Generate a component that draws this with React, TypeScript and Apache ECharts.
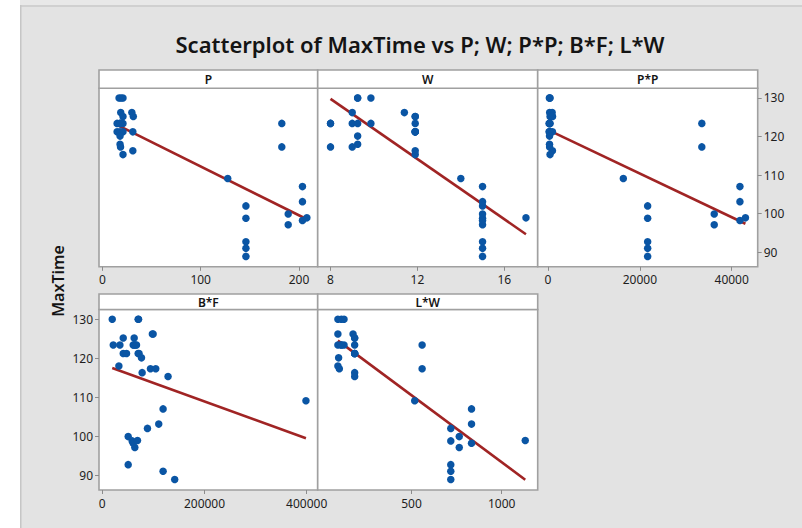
import React, { useEffect, useRef } from "react";
import * as echarts from "echarts";

// ---- Data (one entry per observation) ----
const maxTime = [
  130, 130, 130, 126.2, 126.2, 125.2, 125.2, 123.4, 123.4, 123.4, 123.4, 123.4,
  121.2, 121.2, 121.2, 121.2, 120.1, 118, 117.3, 116.3, 115.3,
  109.1, 102.0, 98.8, 92.7, 91.0, 88.9, 123.4, 117.3, 99.9, 97.1, 107.0, 103.1, 98.2, 98.9,
];
const pVals = [
  17, 19, 21, 18.7, 30, 21, 31.5, 15, 18, 21, 19, 18,
  15, 18, 21, 31, 18, 18, 18.5, 31, 21,
  127.5, 146, 146, 146, 146, 146, 182.5, 182.5, 189, 189, 203.5, 203.5, 203.5, 208,
];
const wVals = [
  9.25, 9.25, 9.86, 9, 11.4, 11.9, 11.9, 8, 9, 9.25, 9.86, 11.9,
  11.9, 11.9, 11.9, 11.9, 9.25, 9.25, 9, 11.9, 11.9,
  14, 15, 15, 15, 15, 15, 8, 8, 15, 15, 15, 15, 15, 17,
];
const ppVals = [
  289, 361, 441, 350, 900, 441, 992, 225, 324, 441, 361, 324,
  225, 324, 441, 961, 324, 324, 342, 961, 441,
  16400, 21700, 21700, 21700, 21700, 21700, 33500, 33500, 36200, 36200, 41800, 41800, 41800, 43000,
];
const bfVals = [
  19500, 70200, 71000, 99500, 98000, 41000, 62400, 21500, 34500, 60500, 65000, 62000,
  41000, 47500, 70200, 72000, 76700, 32500, 94250, 78000, 128700,
  398500, 88400, 58500, 50700, 119000, 141700, 67000, 104650, 50700, 63700, 119000, 110500, 60500, 68900,
];
const lwVals = [
  111, 126, 92, 92, 176, 185, 185, 92, 111, 126, 111, 185,
  185, 185, 185, 185, 96, 92, 100, 185, 185,
  518, 718, 718, 718, 718, 718, 559, 559, 765, 765, 833, 833, 833, 1131,
];

const panelNames = ["P", "W", "P*P", "B*F", "L*W"];
const yTicks = [90, 100, 110, 120, 130];
const xTicksP = [0, 100, 200];
const xTicksW = [8, 12, 16];
const xTicksPP = [0, 20000, 40000];
const xTicksBF = [0, 200000, 400000];
const xTicksLW = [500, 1000];

const FONT = '"Noto Sans", "Open Sans", sans-serif';

function fitLine(xs: number[], ys: number[]) {
  const n = xs.length;
  const mx = xs.reduce((a, b) => a + b, 0) / n;
  const my = ys.reduce((a, b) => a + b, 0) / n;
  let sxy = 0, sxx = 0;
  for (let i = 0; i < n; i++) {
    sxy += (xs[i] - mx) * (ys[i] - my);
    sxx += (xs[i] - mx) * (xs[i] - mx);
  }
  const b = sxy / sxx;
  const a = my - b * mx;
  const lo = Math.min(...xs);
  const hi = Math.max(...xs);
  return [[lo, a + b * lo], [hi, a + b * hi]];
}

export default function App() {
  const ref = useRef<HTMLDivElement>(null);
  useEffect(() => {
    if (!ref.current) return;
    const chart = echarts.init(ref.current, null, { renderer: "svg" });

    const xSets = [pVals, wVals, ppVals, bfVals, lwVals];
    const xTickSets = [xTicksP, xTicksW, xTicksPP, xTicksBF, xTicksLW];
    const xRanges = [
      [-3.4, 219],
      [7.41, 17.54],
      [-2250, 45670],
      [-6400, 421500],
      [-20, 1200],
    ];
    const cols = [[99, 218.7], [317.7, 220], [537.7, 220]];
    const rows = [
      { head: 70, top: 88.3, height: 178.5 },
      { head: 294, top: 309.5, height: 180.5 },
    ];
    const cells = [
      { c: 0, r: 0 }, { c: 1, r: 0 }, { c: 2, r: 0 }, { c: 0, r: 1 }, { c: 1, r: 1 },
    ];
    const yMin = 86.2;
    const yMax = 132.5;
    const border = "#a0a0a0";

    const grid = cells.map((p) => ({
      left: cols[p.c][0],
      width: cols[p.c][1],
      top: rows[p.r].top,
      height: rows[p.r].height,
      show: true,
      backgroundColor: "#ffffff",
      borderColor: border,
      borderWidth: 1.6,
      containLabel: false,
    }));

    const axisLabelBase = {
      fontSize: 12,
      color: "#1e1e1e",
      fontFamily: FONT,
      formatter: (v: number) => String(v),
    };

    const xAxis = cells.map((p, i) => ({
      type: "value",
      gridIndex: i,
      min: xRanges[i][0],
      max: xRanges[i][1],
      position: "bottom",
      splitLine: { show: false },
      axisLine: { show: false, onZero: false },
      axisTick: {
        show: true,
        length: 4,
        lineStyle: { color: "#8c8c8c", width: 1 },
        customValues: xTickSets[i],
      },
      axisLabel: { ...axisLabelBase, margin: 7, customValues: xTickSets[i] },
    }));

    const yAxis = cells.map((p, i) => {
      const showLabels = i === 2 || i === 3;
      return {
        type: "value",
        gridIndex: i,
        min: yMin,
        max: yMax,
        position: i === 2 ? "right" : "left",
        splitLine: { show: false },
        axisLine: { show: false, onZero: false },
        axisTick: {
          show: showLabels,
          length: 4,
          lineStyle: { color: "#8c8c8c", width: 1 },
          customValues: yTicks,
        },
        axisLabel: { ...axisLabelBase, show: showLabels, margin: 6, customValues: yTicks },
      };
    });

    const series: any[] = [];
    cells.forEach((p, i) => {
      const xs = xSets[i];
      series.push({
        type: "line",
        xAxisIndex: i,
        yAxisIndex: i,
        data: fitLine(xs, maxTime),
        symbol: "none",
        lineStyle: { color: "#a02424", width: 2.6 },
        z: 2,
      });
      series.push({
        type: "scatter",
        xAxisIndex: i,
        yAxisIndex: i,
        data: xs.map((x, k) => [x, maxTime[k]]),
        symbolSize: 7.5,
        itemStyle: { color: "#0a55a4", opacity: 1 },
        z: 3,
      });
    });

    const graphics: any[] = [
      { type: "rect", shape: { x: 0, y: 0, width: 20, height: 528 }, style: { fill: "#ffffff" }, z: -5 },
      { type: "rect", shape: { x: 20, y: 0, width: 782, height: 5 }, style: { fill: "#e8e8e8" }, z: -4 },
      { type: "rect", shape: { x: 20, y: 5, width: 782, height: 2 }, style: { fill: "#d0d0d0" }, z: -4 },
      { type: "rect", shape: { x: 20, y: 5, width: 1.5, height: 523 }, style: { fill: "#c6c6c6" }, z: -4 },
      {
        type: "text",
        x: 420,
        y: 44,
        style: {
          text: "Scatterplot of MaxTime vs P; W; P*P; B*F; L*W",
          fontSize: 22,
          fontWeight: 600,
          fontFamily: FONT,
          fill: "#141414",
          textAlign: "center",
          textVerticalAlign: "middle",
        },
      },
      {
        type: "text",
        x: 58,
        y: 281,
        rotation: Math.PI / 2,
        style: {
          text: "MaxTime",
          fontSize: 16,
          fontWeight: 600,
          fontFamily: FONT,
          fill: "#141414",
          textAlign: "center",
          textVerticalAlign: "middle",
        },
      },
    ];
    cells.forEach((p, i) => {
      const x = cols[p.c][0];
      const w = cols[p.c][1];
      const y = rows[p.r].head;
      const h = rows[p.r].top - y;
      graphics.push({
        type: "rect",
        shape: { x, y, width: w, height: h },
        style: { fill: "#ffffff", stroke: border, lineWidth: 1.6 },
      });
      graphics.push({
        type: "text",
        x: x + w / 2,
        y: y + h / 2 + 0.5,
        style: {
          text: panelNames[i],
          fontSize: 12,
          fontWeight: 600,
          fontFamily: FONT,
          fill: "#141414",
          textAlign: "center",
          textVerticalAlign: "middle",
        },
      });
    });

    chart.setOption({
      animation: false,
      backgroundColor: "#e3e3e3",
      grid,
      xAxis,
      yAxis,
      series,
      graphic: graphics,
    });
    return () => chart.dispose();
  }, []);
  return (
    <div
      ref={ref}
      style={{ position: "absolute", left: 0, top: 0, width: 802, height: 528 }}
    />
  );
}
